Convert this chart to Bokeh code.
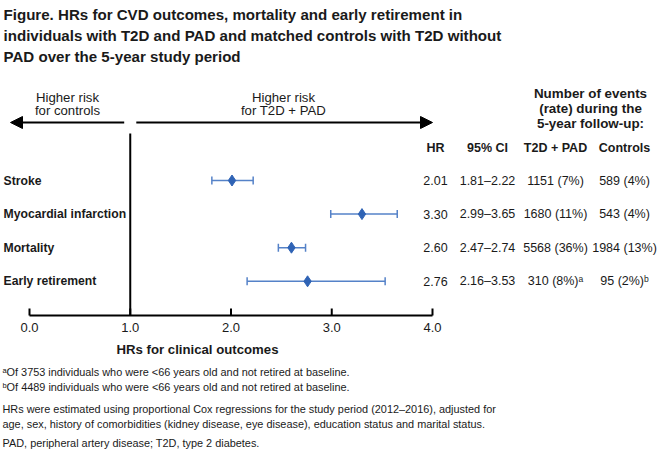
from bokeh.plotting import figure
from bokeh.models import Range1d, Arrow, NormalHead
from bokeh.core.properties import value
from bokeh.embed import file_html
from bokeh.resources import INLINE

# ---- data ----
outcomes = ["Stroke", "Myocardial infarction", "Mortality", "Early retirement"]
hr = [2.01, 3.30, 2.60, 2.76]
ci_low = [1.81, 2.99, 2.47, 2.16]
ci_high = [2.22, 3.65, 2.74, 3.53]
hr_labels = ["2.01", "3.30", "2.60", "2.76"]
ci_labels = ["1.81\u20132.22", "2.99\u20133.65", "2.47\u20132.74", "2.16\u20133.53"]
events_pad = ["1151 (7%)", "1680 (11%)", "5568 (36%)", "310 (8%)\u1d43"]
events_ctrl = ["589 (4%)", "543 (4%)", "1984 (13%)", "95 (2%)\u1d47"]
x_ticks = [0.0, 1.0, 2.0, 3.0, 4.0]
tick_labels = ["0.0", "1.0", "2.0", "3.0", "4.0"]

title_lines = [
    "Figure. HRs for CVD outcomes, mortality and early retirement in",
    "individuals with T2D and PAD and matched controls with T2D without",
    "PAD over the 5-year study period",
]
footnotes = [
    "\u1d43Of 3753 individuals who were <66 years old and not retired at baseline.",
    "\u1d47Of 4489 individuals who were <66 years old and not retired at baseline.",
    "HRs were estimated using proportional Cox regressions for the study period (2012\u20132016), adjusted for",
    "age, sex, history of comorbidities (kidney disease, eye disease), education status and marital status.",
    "PAD, peripheral artery disease; T2D, type 2 diabetes.",
]

FONT = value("Liberation Sans")
TXT = "#1a1a1a"
BLUE = "#2f63b5"
BAR = "#5582c8"

# layout helpers (reference pixel coordinates)
PX0, PXU = 29.0, 100.75  # pixel of HR=0, pixels per HR unit
OFF = 0
def dx(px):
    return (px - PX0) / PXU

W, H = 658, 451
p = figure(width=W, height=H, output_backend="svg", toolbar_location=None,
           x_range=Range1d(dx(OFF), dx(OFF + W)), y_range=Range1d(OFF + H, OFF),
           min_border=0, outline_line_color=None)
p.axis.visible = False
p.grid.visible = False
p.background_fill_color = "white"

row_y = [180 + i * 33.6 for i in range(len(outcomes))]

# title
p.text(x=[dx(3)] * 3, y=[14, 35, 56], text=title_lines, text_font=FONT,
       text_font_size="15.1px", text_font_style="bold", text_color=TXT,
       text_baseline="middle", text_align="left")

# direction arrows
p.add_layout(Arrow(end=NormalHead(size=12, fill_color="black", line_color="black"),
                   x_start=0.94, y_start=122, x_end=dx(10), y_end=122,
                   line_width=2, line_color="black"))
p.add_layout(Arrow(end=NormalHead(size=12, fill_color="black", line_color="black"),
                   x_start=1.06, y_start=122, x_end=4.0, y_end=122,
                   line_width=2, line_color="black"))
p.text(x=[dx(67)] * 2, y=[97, 110], text=["Higher risk", "for controls"],
       text_font=FONT, text_font_size="13.2px", text_color=TXT,
       text_baseline="middle", text_align="center")
p.text(x=[dx(283)] * 2, y=[97, 110], text=["Higher risk", "for T2D + PAD"],
       text_font=FONT, text_font_size="13.2px", text_color=TXT,
       text_baseline="middle", text_align="center")

# reference line at HR = 1
p.segment(x0=[1.0], y0=[133], x1=[1.0], y1=[315], line_color="black", line_width=2)

# x axis drawn from ticks
p.segment(x0=[x_ticks[0]], y0=[315], x1=[x_ticks[-1]], y1=[315], line_color="black", line_width=2)
p.segment(x0=x_ticks, y0=[308] * 5, x1=x_ticks, y1=[315] * 5, line_color="black", line_width=2)
p.text(x=x_ticks, y=[327] * 5, text=tick_labels, text_font=FONT, text_font_size="13px",
       text_color=TXT, text_baseline="middle", text_align="center")
p.text(x=[dx(197)], y=[349], text=["HRs for clinical outcomes"], text_font=FONT,
       text_font_size="13.2px", text_font_style="bold", text_color=TXT,
       text_baseline="middle", text_align="center")

# row labels
p.text(x=[dx(3)] * 4, y=row_y, text=outcomes, text_font=FONT, text_font_size="12.2px",
       text_font_style="bold", text_color=TXT, text_baseline="middle", text_align="left")

# error bars and points
p.segment(x0=ci_low, y0=row_y, x1=ci_high, y1=row_y, line_color=BAR, line_width=1.5)
p.segment(x0=ci_low, y0=[y - 4 for y in row_y], x1=ci_low, y1=[y + 4 for y in row_y],
          line_color=BAR, line_width=1.5)
p.segment(x0=ci_high, y0=[y - 4 for y in row_y], x1=ci_high, y1=[y + 4 for y in row_y],
          line_color=BAR, line_width=1.5)
p.scatter(x=hr, y=row_y, marker="diamond", size=11, fill_color=BLUE, line_color=BLUE)

# table
hdr_y = 147
p.text(x=[dx(590)] * 3, y=[93, 108, 123],
       text=["Number of events", "(rate) during the", "5-year follow-up:"],
       text_font=FONT, text_font_size="13.4px", text_font_style="bold", text_color=TXT,
       text_baseline="middle", text_align="center")
cols = [dx(435), dx(487), dx(555), dx(624)]
p.text(x=cols, y=[hdr_y] * 4, text=["HR", "95% CI", "T2D + PAD", "Controls"],
       text_font=FONT, text_font_size="12.5px", text_font_style="bold", text_color=TXT,
       text_baseline="middle", text_align="center")
for cx, col in zip(cols, [hr_labels, ci_labels, events_pad, events_ctrl]):
    p.text(x=[cx] * 4, y=row_y, text=col, text_font=FONT, text_font_size="12.5px",
           text_color=TXT, text_baseline="middle", text_align="center")

# footnotes
p.text(x=[dx(2)] * 5, y=[371, 386, 408, 423, 442], text=footnotes, text_font=FONT,
       text_font_size="10.9px", text_color=TXT, text_baseline="middle", text_align="left")

open("out.html", "w").write(file_html(p, INLINE))
